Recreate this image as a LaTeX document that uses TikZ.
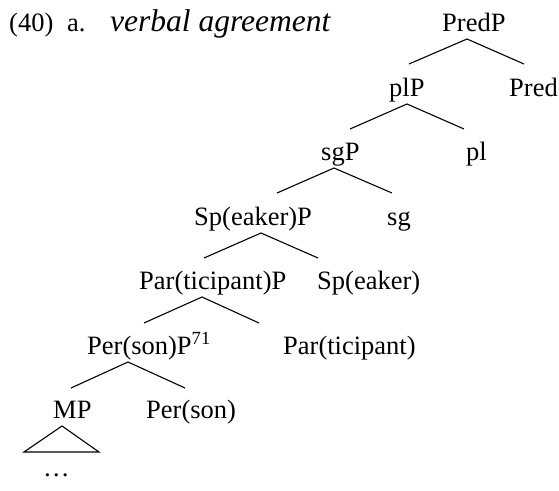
\documentclass[tikz,border=0pt]{standalone}
\usepackage{fontspec}
\setmainfont{Liberation Serif}
\begin{document}
\begin{tikzpicture}[x=1pt,y=-1pt,
  lab/.style={anchor=base west,inner sep=0pt,font=\fontsize{26.5}{32}\selectfont},
  head/.style={anchor=base west,inner sep=0pt,font=\fontsize{26.5}{32}\selectfont},
  headit/.style={anchor=base west,inner sep=0pt,font=\fontsize{31.5}{38}\selectfont\itshape},
  branch/.style={line width=1.1pt,black,line join=miter}]
\useasboundingbox (0,0) rectangle (559,490);
% header
\node[head] (num) at (9,31) {(40)};
\node[head] (sub) at (67,31) {a.};
\node[headit] (title) at (110,31) {verbal agreement};
% tree labels
\node[lab] (predP) at (442,31) {PredP};
\node[lab] (plP) at (389,96) {plP};
\node[lab] (pred) at (509,96) {Pred};
\node[lab] (sgP) at (321,160) {sgP};
\node[lab] (pl) at (466,160) {pl};
\node[lab] (spP) at (194,225) {Sp(eaker)P};
\node[lab] (sg) at (387,225) {sg};
\node[lab] (parP) at (139,289) {Par(ticipant)P};
\node[lab] (sp) at (317,289) {Sp(eaker)};
\node[lab] (perP) at (87,354) {Per(son)P\textsuperscript{71}};
\node[lab] (par) at (283,354) {Par(ticipant)};
\node[lab] (mp) at (53,418) {MP};
\node[lab] (per) at (146,418) {Per(son)};
\node[lab] (dots) at (43,476) {…};
% branch points
\coordinate (a1) at (467,39);  \coordinate (l1) at (409,64);  \coordinate (r1) at (524,64);
\coordinate (a2) at (407,104); \coordinate (l2) at (350,129); \coordinate (r2) at (464,129);
\coordinate (a3) at (334,168); \coordinate (l3) at (277,193); \coordinate (r3) at (392,193);
\coordinate (a4) at (261,233); \coordinate (l4) at (204,258); \coordinate (r4) at (318,258);
\coordinate (a5) at (202,297); \coordinate (l5) at (144,323); \coordinate (r5) at (259,323);
\coordinate (a6) at (128,362); \coordinate (l6) at (71,388);  \coordinate (r6) at (185,388);
\coordinate (ta) at (62,426);  \coordinate (tl) at (24,452);  \coordinate (tr) at (99,452);
% branches
\draw[branch] (l1) -- (a1) -- (r1);
\draw[branch] (l2) -- (a2) -- (r2);
\draw[branch] (l3) -- (a3) -- (r3);
\draw[branch] (l4) -- (a4) -- (r4);
\draw[branch] (l5) -- (a5) -- (r5);
\draw[branch] (l6) -- (a6) -- (r6);
\draw[branch] (ta) -- (tl) -- (tr) -- cycle;
\end{tikzpicture}
\end{document}
